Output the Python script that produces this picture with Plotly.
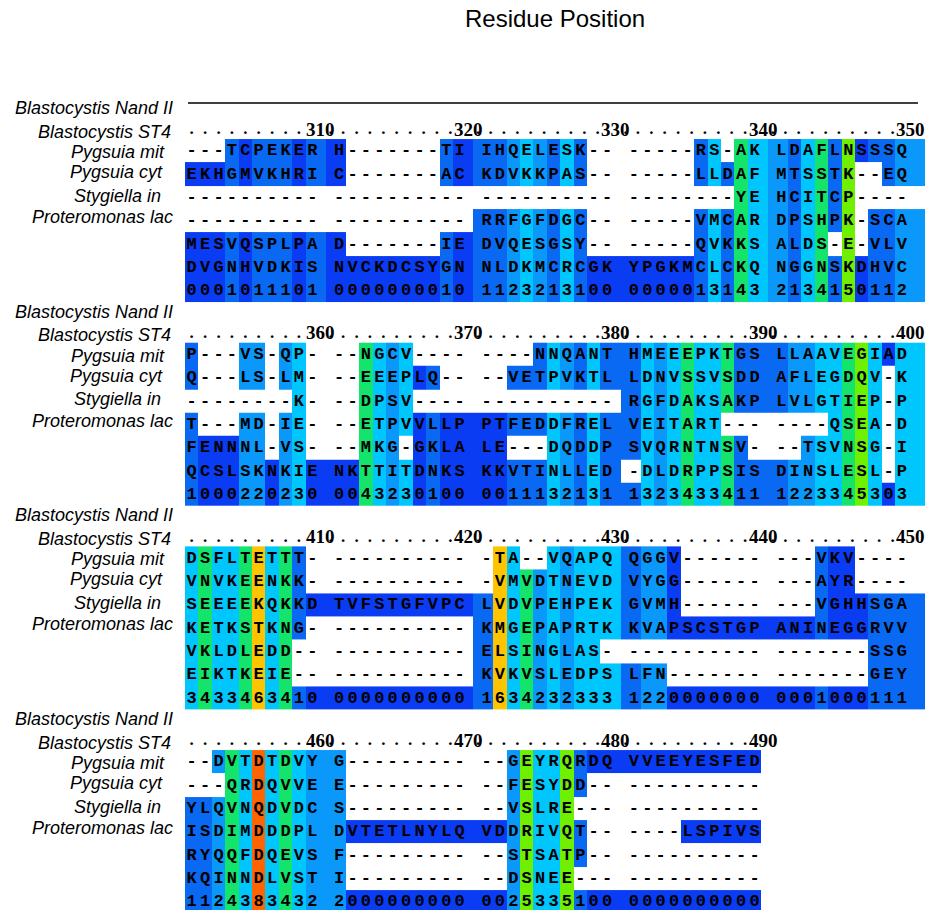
import plotly.graph_objects as go

# ---------------------------------------------------------------- data
TITLE = "Residue Position"
SPECIES = ["Blastocystis Nand II", "Blastocystis ST4", "Pygsuia mit",
           "Pygsuia cyt", "Stygiella in", "Proteromonas lac"]

BLOCK_STARTS = [301, 351, 401, 451]

SEQ_301 = [
    "---TCPEKER H-------TI IHQELESK-- -----RS-AK LDAFLNSSSQ",
    "EKHGMVKHRI C-------AC KDVKKPAS-- -----LLDAF MTSSTK--EQ",
    "---------- ---------- ---------- --------YE HCITCP----",
    "---------- ---------- RRFGFDGC-- -----VMCAR DPSHPK-SCA",
    "MESVQSPLPA D-------IE DVQESGSY-- -----QVKKS ALDS-E-VLV",
    "DVGNHVDKIS NVCKDCSYGN NLDKMCRCGK YPGKMCLCKQ NGGNSKDHVC",
]
CONS_301 = "0001011101 0000000010 1123213100 0000013143 2134150112"

SEQ_351 = [
    "P---VS-QP- --NGCV---- ----NNQANT HMEEEPKTGS LLAAVEGIAD",
    "Q---LS-LM- --EEEPLQ-- --VETPVKTL LDNVSSVSDD AFLEGDQV-K",
    "--------K- --DPSV---- ---------- RGFDAKSAKP LVLGTIEP-P",
    "T---MD-IE- --ETPVVLLP PTFEDDFREL VEITART--- ----QSEA-D",
    "FENNNL-VS- --MKG-GKLA LE---DQDDP SVQRNTNSV- --TSVNSG-I",
    "QCSLSKNKIE NKTTITDNKS KKVTINLLED -DLDRPPSIS DINSLESL-P",
]
CONS_351 = "1000220230 0043230100 0011132131 1323433411 1223345303"

SEQ_401 = [
    "DSFLTETTT- ---------- -TA--VQAPQ QGGV------ ---VKV----",
    "VNVKEENKK- ---------- -VMVDTNEVD VYGG------ ---AYR----",
    "SEEEEKQKKD TVFSTGFVPC LVDVPEHPEK GVMH------ ---VGHHSGA",
    "KETKSTKNG- ---------- KMGEPAPRTK KVAPSCSTGP ANINEGGRVV",
    "VKLDLEDD-- ---------- ELSINGLAS- ---------- -------SSG",
    "EIKTKEIE-- ---------- KVKVSLEDPS LFN------- -------GEY",
]
CONS_401 = "3433463410 0000000000 1634232333 1220000000 0001000111"

SEQ_451 = [
    "--DVTDTDVY G--------- --GEYRQRDQ VVEEYESFED",
    "---QRDQVVE E--------- --FESYDD-- ----------",
    "YLQVNQDVDC S--------- --VSLRE--- ----------",
    "ISDIMDDDPL DVTETLNYLQ VDDRIVQT-- ----LSPIVS",
    "RYQQFDQEVS F--------- --STSATP-- ----------",
    "KQINNDLVST I--------- --DSNEE--- ----------",
]
CONS_451 = "1124383432 2000000000 0025335100 0000000000"

SEQ_BLOCKS = [SEQ_301, SEQ_351, SEQ_401, SEQ_451]
CONS_BLOCKS = [CONS_301, CONS_351, CONS_401, CONS_451]

# score 0..9 -> colour
SCORE_COLORS = ["#0a3cf4", "#0969f2", "#0a98fa", "#00c6fe", "#14e46c",
                "#6ef000", "#ffc400", "#ff9500", "#ff6400", "#ff3300"]

# ---------------------------------------------------------------- layout constants
W, H = 939, 910
X0 = 185.0            # left edge of first residue slot (px)
SW = 13.4             # width of one character slot (px)
ROW1_Y = 150.7        # centre of first sequence row in block 1
RH = 23.33            # row height
BLOCK_DY = 203.67     # distance between blocks
RULER_DY = -20.7      # ruler relative to first sequence row
LINE_LEN = 50
BAND_RIGHT_FULL = 925.0
LABEL_DY = [-22.0, 1.5, 22.0, 42.0, 65.5, 87.0]
LABEL_RIGHT = [175.0, 173.0, 166.5, 165.0, 163.0, 175.0]

SEQ_FONT = dict(family="Liberation Mono", size=17, color="#000000", weight="bold")
RULER_FONT = dict(family="Liberation Serif", size=19, color="#000000", weight="bold")
DOT_FONT = dict(family="Liberation Serif", size=17, color="#000000", weight="bold")
LABEL_FONT = dict(family="Liberation Sans", size=18, color="#000000", style="italic")


def slot_of(k):
    return k + k // 10


def slot_center(s):
    return X0 + (s + 0.5) * SW


colorscale = []
for i, c in enumerate(SCORE_COLORS):
    colorscale.append([i / len(SCORE_COLORS), c])
    colorscale.append([(i + 1) / len(SCORE_COLORS), c])

fig = go.Figure()
annotations = []
shapes = []

txt_x, txt_y, txt_s = [], [], []
dot_x, dot_y = [], []

for b, start in enumerate(BLOCK_STARTS):
    seqs = [s.replace(" ", "") for s in SEQ_BLOCKS[b]]
    cons = CONS_BLOCKS[b].replace(" ", "")
    n = len(cons)
    cx = [slot_center(slot_of(k)) for k in range(n)]
    right = BAND_RIGHT_FULL if n == LINE_LEN else cx[-1] + SW / 2
    edges_x = [cx[0] - SW / 2] + [(cx[k - 1] + cx[k]) / 2 for k in range(1, n)] + [right]

    rows = seqs + [cons]
    yc = [ROW1_Y + b * BLOCK_DY + r * RH for r in range(len(rows))]
    edges_y = [yc[0] - RH / 2 + r * RH for r in range(len(rows) + 1)]

    z = []
    for r, row in enumerate(rows):
        zr = []
        for k in range(n):
            if r == len(rows) - 1:
                zr.append(int(cons[k]))
            else:
                zr.append(None if row[k] == "-" else int(cons[k]))
        z.append(zr)

    fig.add_trace(go.Heatmap(
        x=edges_x, y=edges_y, z=z, colorscale=colorscale,
        zmin=-0.5, zmax=len(SCORE_COLORS) - 0.5, showscale=False,
        hoverinfo="skip", xgap=0, ygap=0))

    for r, row in enumerate(rows):
        for k in range(n):
            txt_x.append(cx[k])
            txt_y.append(yc[r] + 0.5)
            txt_s.append(row[k])

    # ruler
    yr = yc[0] + RULER_DY
    for k in range(n):
        pos = start + k
        if pos % 10 == 0:
            annotations.append(dict(
                x=cx[k] + 8.5, y=yr - 1, xref="x", yref="y", text=str(pos),
                showarrow=False, xanchor="center", yanchor="middle", font=RULER_FONT))
            if k < n - 1:
                dot_x.append(slot_center(slot_of(k) + 1) + 5)
                dot_y.append(yr)
        else:
            dot_x.append(cx[k] + (0 if k < 10 else 4))
            dot_y.append(yr)

    # species labels
    for i, name in enumerate(SPECIES):
        annotations.append(dict(
            x=LABEL_RIGHT[i], y=yr + LABEL_DY[i], xref="x", yref="y", text=name,
            showarrow=False, xanchor="right", yanchor="middle", font=LABEL_FONT))

    if b == 0:
        shapes.append(dict(type="line", xref="x", yref="y",
                           x0=X0 + 3, x1=918, y0=yr - 27, y1=yr - 27,
                           line=dict(color="#000000", width=1.3)))

fig.add_trace(go.Scatter(
    x=txt_x, y=txt_y, text=txt_s, mode="text", textposition="middle center",
    textfont=SEQ_FONT, hoverinfo="skip", showlegend=False))

fig.add_trace(go.Scatter(
    x=dot_x, y=dot_y, text=["."] * len(dot_x), mode="text",
    textposition="middle center", textfont=DOT_FONT,
    hoverinfo="skip", showlegend=False))

annotations.append(dict(
    x=(X0 + BAND_RIGHT_FULL) / 2, y=18, xref="x", yref="y", text=TITLE,
    showarrow=False, xanchor="center", yanchor="middle",
    font=dict(family="Liberation Sans", size=24, color="#000000")))

fig.update_layout(
    width=W, height=H,
    margin=dict(l=0, r=0, t=0, b=0),
    paper_bgcolor="white", plot_bgcolor="white",
    showlegend=False,
    xaxis=dict(range=[0, W], visible=False, fixedrange=True),
    yaxis=dict(range=[H, 0], visible=False, fixedrange=True),
    annotations=annotations,
    shapes=shapes,
)

fig.write_html("out.html",
               config={"displayModeBar": False},
               post_script="document.body.style.margin='0';")
